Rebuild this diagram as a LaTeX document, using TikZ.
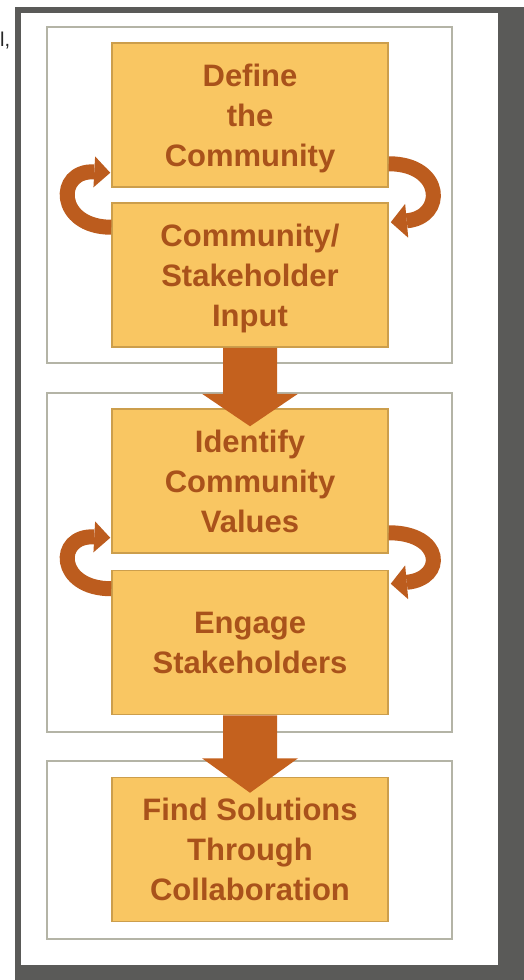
\documentclass[tikz,border=0pt]{standalone}
\usepackage{fontspec}
\setmainfont{Liberation Sans}
\usetikzlibrary{calc,arrows.meta}
\definecolor{framegray}{HTML}{5A5A58}
\definecolor{panelline}{HTML}{B4B4A6}
\definecolor{boxfill}{HTML}{F9C662}
\definecolor{boxline}{HTML}{CC9E4C}
\definecolor{txt}{HTML}{A9521B}
\definecolor{arrowcol}{HTML}{C4611E}
\definecolor{loopcol}{HTML}{BC5C1E}
\newcommand\toprl{\rule{0pt}{34pt}}
\newcommand\botrl{\rule[-12pt]{0pt}{12pt}}
\begin{document}
\begin{tikzpicture}[x=1pt,y=-1pt,
  panel/.style={draw=panelline, line width=2pt, fill=white},
  stepbox/.style={draw=boxline, line width=1.5pt, fill=boxfill,
    minimum width=276pt, minimum height=144pt, inner sep=0pt,
    align=center, text=txt, font=\fontsize{31}{40}\selectfont\bfseries},
  loopl/.style={draw=loopcol, line width=15pt,
    -{Triangle[length=16pt,width=31pt,line width=0pt]}},
  loopr/.style={draw=loopcol, line width=15pt,
    -{Triangle[length=16pt,width=34pt,line width=0pt]}},
  bigarrow/.style={fill=arrowcol}]
\useasboundingbox (0,0) rectangle (524,980);
\fill[white] (0,0) rectangle (524,980);
% frame
\fill[framegray] (15,7) rectangle (524,980);
\fill[white] (21,13) rectangle (498,965);
\node[anchor=base west, inner sep=0pt, font=\fontsize{20}{20}\selectfont, text=black!85] (cut) at (0,46) {l,};
% panels
\draw[panel] (47,27) rectangle (452,363);
\draw[panel] (47,393) rectangle (452,732);
\draw[panel] (47,761) rectangle (452,939);
% boxes
\node[stepbox] (b1) at (250,115) {\toprl Define\\the\\Community\botrl};
\node[stepbox] (b2) at (250,275) {\toprl Community/\\Stakeholder\\Input\botrl};
\node[stepbox] (b3) at (250,481) {\toprl Identify\\Community\\Values\botrl};
\node[stepbox] (b4) at (250,642.5) {\toprl Engage\\Stakeholders\botrl};
\node[stepbox] (b5) at (250,849.5) {\toprl Find Solutions\\Through\\Collaboration\botrl};
% loop arrows
\draw[loopl] ($(b2.north west)+(0,25)$) .. controls +(-55,0) and +(-55,-3) .. ($(b1.south west)+(-1,-15)$);
\draw[loopr] ($(b1.south east)+(0,-24)$) .. controls +(55,0) and +(55,-5) .. ($(b2.north east)+(2,20)$);
\draw[loopl] ($(b4.north west)+(0,19)$) .. controls +(-55,0) and +(-55,-3) .. ($(b3.south west)+(-1,-16)$);
\draw[loopr] ($(b3.south east)+(0,-21)$) .. controls +(55,0) and +(55,-5) .. ($(b4.north east)+(2,14)$);
% big arrows
\fill[bigarrow] ($(b2.south)+(-27,0)$) -- ($(b2.south)+(27,0)$) -- ($(b2.south)+(27,46)$) -- ($(b2.south)+(48,46)$) -- ($(b3.north)+(0,18)$) -- ($(b2.south)+(-48,46)$) -- ($(b2.south)+(-27,46)$) -- cycle;
\fill[bigarrow] ($(b4.south)+(-27,0)$) -- ($(b4.south)+(27,0)$) -- ($(b4.south)+(27,43)$) -- ($(b4.south)+(48,43)$) -- ($(b5.north)+(0,16)$) -- ($(b4.south)+(-48,43)$) -- ($(b4.south)+(-27,43)$) -- cycle;
\end{tikzpicture}
\end{document}
